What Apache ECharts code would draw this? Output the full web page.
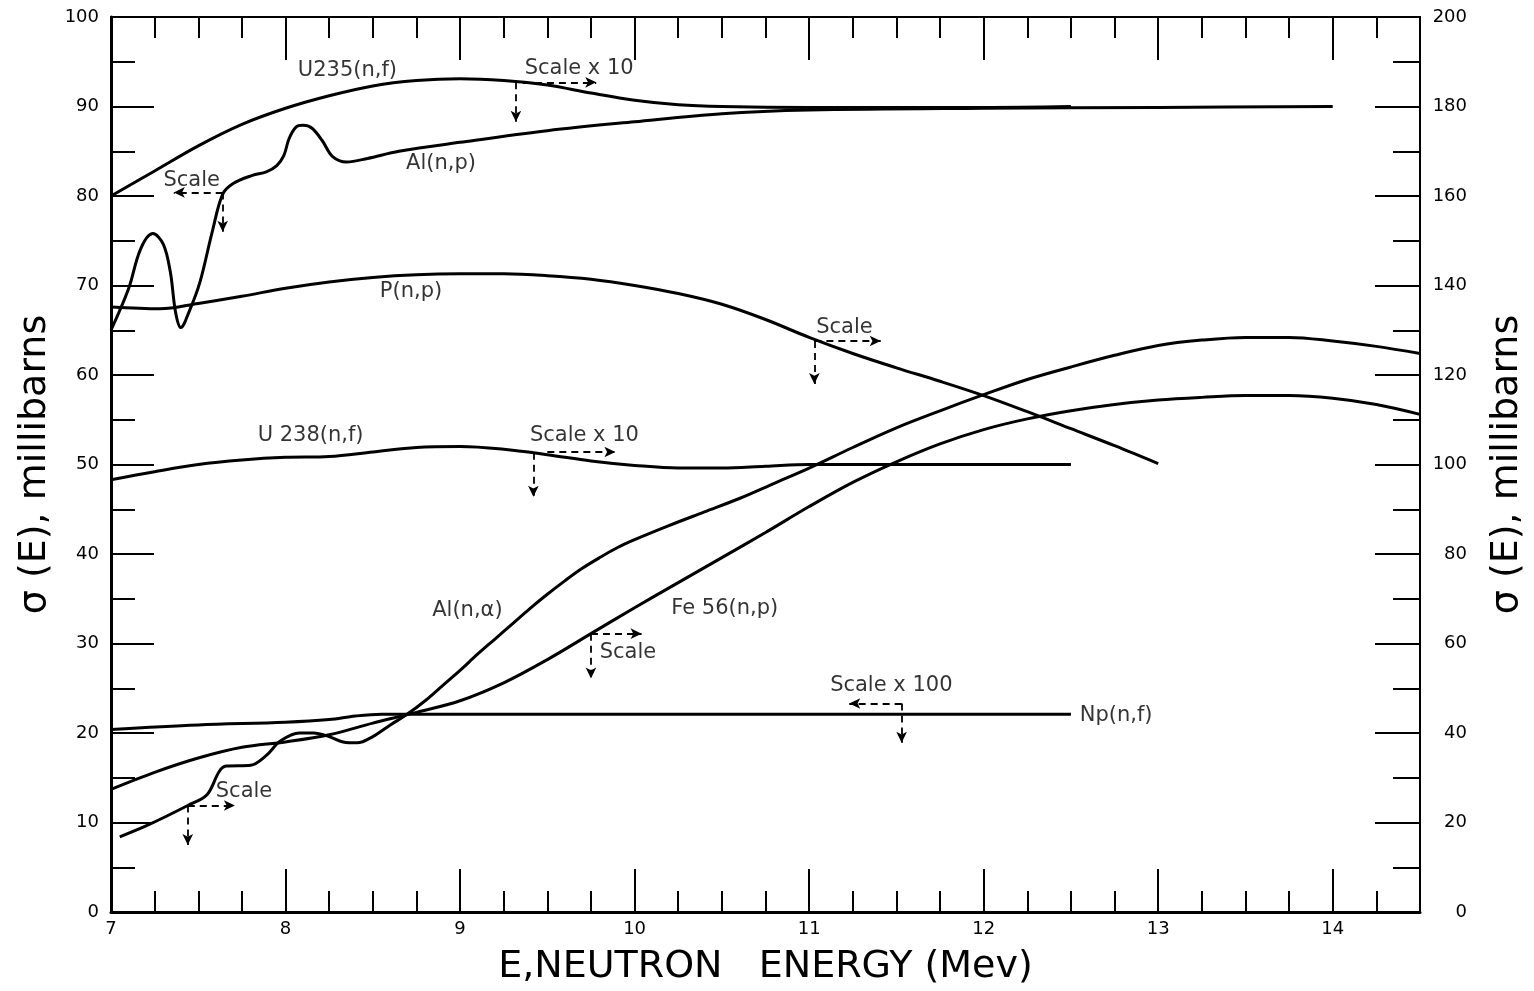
<!DOCTYPE html>
<html>
<head>
<meta charset="utf-8">
<script src="https://cdn.jsdelivr.net/npm/echarts@6/dist/echarts.min.js"></script>
<style>
html,body{margin:0;padding:0;background:#fff;}
#chart{width:1534px;height:991px;}
</style>
</head>
<body>
<div id="chart"></div>
<script>
// ---- data (energy in MeV, cross-section read on the left scale) ----
const u235 = [[7.0,80.0],[7.25,82.8],[7.5,85.6],[7.75,88.0],[8.0,89.8],[8.25,91.2],[8.5,92.3],[8.75,92.9],[9.0,93.1],[9.25,92.9],[9.5,92.4],[9.75,91.5],[10.0,90.7],[10.25,90.2],[10.5,90.0],[11.0,89.9],[12.0,89.9],[12.5,90.0]];
const alNp = [[7.0,65.0],[7.1,69.6],[7.17,74.1],[7.24,75.8],[7.30,74.6],[7.34,71.5],[7.37,67.0],[7.40,65.3],[7.45,67.2],[7.51,70.4],[7.58,76.0],[7.64,80.2],[7.70,81.4],[7.81,82.3],[7.89,82.7],[7.95,83.4],[7.99,84.5],[8.02,86.4],[8.06,87.7],[8.10,87.9],[8.15,87.6],[8.21,86.2],[8.27,84.4],[8.35,83.8],[8.47,84.2],[8.65,85.0],[9.0,86.0],[9.5,87.3],[10.0,88.3],[10.5,89.2],[11.0,89.6],[12.0,89.8],[13.0,89.9],[14.0,90.0]];
const pNp = [[7.0,67.6],[7.28,67.4],[7.5,68.0],[7.75,68.8],[8.0,69.7],[8.25,70.4],[8.5,70.9],[8.75,71.2],[9.0,71.3],[9.25,71.3],[9.5,71.1],[9.75,70.7],[10.0,70.0],[10.25,69.1],[10.5,67.9],[10.75,66.2],[11.0,64.2],[11.25,62.4],[11.5,60.8],[11.75,59.3],[12.0,57.7],[12.25,55.9],[12.5,54.0],[12.75,52.1],[13.0,50.1]];
const u238 = [[7.0,48.3],[7.25,49.2],[7.5,50.0],[7.75,50.5],[8.0,50.8],[8.25,50.9],[8.5,51.4],[8.75,51.9],[9.0,52.0],[9.25,51.7],[9.5,51.1],[9.75,50.4],[10.0,49.9],[10.25,49.6],[10.5,49.6],[10.75,49.8],[11.0,50.0],[11.5,50.0],[12.0,50.0],[12.5,50.0]];
const npNf = [[7.0,20.4],[7.5,20.9],[8.0,21.2],[8.25,21.5],[8.4,21.9],[8.55,22.1],[9.0,22.1],[10.0,22.1],[11.0,22.1],[12.5,22.1]];
const alNa = [[7.05,8.4],[7.21,9.7],[7.44,11.9],[7.55,13.1],[7.62,15.7],[7.66,16.3],[7.8,16.4],[7.89,17.5],[7.97,19.1],[8.08,20.0],[8.16,20.0],[8.25,19.6],[8.33,19.0],[8.41,18.9],[8.5,19.6],[8.6,20.9],[8.69,22.0],[8.8,23.6],[8.9,25.3],[9.0,27.0],[9.1,28.8],[9.2,30.5],[9.3,32.2],[9.4,33.9],[9.5,35.5],[9.6,37.0],[9.7,38.4],[9.8,39.6],[9.9,40.7],[10.0,41.6],[10.2,43.2],[10.4,44.7],[10.6,46.2],[10.8,47.9],[11.0,49.6],[11.25,51.9],[11.5,54.1],[11.75,56.0],[12.0,57.8],[12.25,59.5],[12.5,60.9],[12.75,62.2],[13.0,63.3],[13.25,63.9],[13.5,64.2],[13.75,64.2],[14.0,63.8],[14.25,63.2],[14.5,62.4]];
const fe56 = [[7.0,13.7],[7.25,15.6],[7.5,17.2],[7.75,18.4],[8.0,19.0],[8.25,19.8],[8.5,21.1],[8.75,22.3],[9.0,23.6],[9.25,25.6],[9.5,28.2],[9.75,31.1],[10.0,34.0],[10.25,36.8],[10.5,39.6],[10.75,42.4],[11.0,45.3],[11.25,48.0],[11.5,50.3],[11.75,52.3],[12.0,53.9],[12.25,55.1],[12.5,56.0],[12.75,56.7],[13.0,57.2],[13.25,57.5],[13.5,57.7],[13.75,57.7],[14.0,57.4],[14.25,56.7],[14.5,55.6]];

// curve and scale labels: [energy, value, text]
const curveLabels = [
  [8.07,94.0,'U235(n,f)'],
  [9.37,94.2,'Scale x 10'],
  [7.30,81.7,'Scale'],
  [8.69,83.6,'Al(n,p)'],
  [8.54,69.3,'P(n,p)'],
  [11.04,65.3,'Scale'],
  [7.84,53.2,'U 238(n,f)'],
  [9.40,53.2,'Scale x 10'],
  [8.84,33.7,'Al(n,\u03b1)'],
  [10.21,33.9,'Fe 56(n,p)'],
  [9.80,29.0,'Scale'],
  [11.12,25.3,'Scale x 100'],
  [12.55,22.0,'Np(n,f)'],
  [7.60,13.5,'Scale']
];
// dashed "Scale" arrows: [fromE, fromV, toE, toV]
const scaleArrows = [
  [9.32,92.7,9.32,88.3],[9.36,92.7,9.78,92.7],
  [7.64,80.4,7.36,80.4],[7.64,80.4,7.64,76.0],
  [11.03,63.8,11.41,63.8],[11.03,63.8,11.03,59.0],
  [9.42,51.3,9.42,46.4],[9.50,51.4,9.89,51.4],
  [9.75,31.1,10.04,31.1],[9.75,31.1,9.75,26.1],
  [11.53,23.3,11.23,23.3],[11.53,23.3,11.53,18.9],
  [7.44,11.9,7.71,11.9],[7.44,11.9,7.44,7.5]
];
const xMin = 7, xMax = 14.5;
const leftMax = 100, rightMax = 200;

const FONT = 'DejaVu Sans';
const black = '#000';

function curve(name, data) {
  return {
    name, type: 'line', data, xAxisIndex: 0, yAxisIndex: 0,
    showSymbol: false, smooth: 0.35, silent: true,
    lineStyle: {color: black, width: 3},
    z: 3
  };
}

function xAxisPart(position, minorAxis) {
  const base = {
    type: 'value', min: xMin, max: xMax, position,
    interval: minorAxis ? 0.25 : 1,
    splitLine: {show: false},
    axisLine: {show: minorAxis, onZero: false, lineStyle: {color: black, width: position === 'bottom' ? 3 : 2}},
    axisTick: {show: true, inside: true, length: minorAxis ? 21 : 43, lineStyle: {color: black, width: 2}},
    axisLabel: {show: false}
  };
  if (minorAxis && position === 'bottom') {
    base.axisLabel = {
      show: true, color: black, fontSize: 18, fontFamily: FONT, margin: 8,
      formatter: v => (Math.abs(v - Math.round(v)) < 1e-6 && v < 14.4) ? String(Math.round(v)) : ''
    };
    base.name = 'E,NEUTRON   ENERGY (Mev)';
    base.nameLocation = 'middle';
    base.nameGap = 36;
    base.nameTextStyle = {color: black, fontSize: 38, fontFamily: FONT};
  }
  return base;
}

const option = {
  animation: false,
  backgroundColor: '#fff',
  grid: {left: 111, right: 113, top: 17, bottom: 77, containLabel: false},
  xAxis: [
    xAxisPart('bottom', true),
    xAxisPart('bottom', false),
    xAxisPart('top', true),
    xAxisPart('top', false)
  ],
  yAxis: [
    {
      type: 'value', min: 0, max: leftMax, interval: 10, position: 'left',
      splitLine: {show: false},
      axisLine: {show: true, onZero: false, lineStyle: {color: black, width: 3}},
      axisTick: {show: true, inside: true, length: 43, lineStyle: {color: black, width: 2}},
      minorTick: {show: true, splitNumber: 2, length: 24, lineStyle: {color: black, width: 2}},
      axisLabel: {color: black, fontSize: 18, fontFamily: FONT, margin: 12},
      name: '\u03c3 (E), millibarns', nameLocation: 'middle', nameGap: 42, nameRotate: 90,
      nameTextStyle: {color: black, fontSize: 38, fontFamily: FONT}
    },
    {
      type: 'value', min: 0, max: rightMax, interval: 20, position: 'right',
      splitLine: {show: false},
      axisLine: {show: true, onZero: false, lineStyle: {color: black, width: 2}},
      axisTick: {show: true, inside: true, length: 45, lineStyle: {color: black, width: 2}},
      minorTick: {show: true, splitNumber: 2, length: 27, lineStyle: {color: black, width: 2}},
      axisLabel: {color: black, fontSize: 18, fontFamily: FONT, margin: 47, align: 'right'},
      name: '\u03c3 (E), millibarns', nameLocation: 'middle', nameGap: 68, nameRotate: 90,
      nameTextStyle: {color: black, fontSize: 38, fontFamily: FONT}
    }
  ],
  series: [
    curve('U235(n,f)', u235),
    curve('Al(n,p)', alNp),
    curve('P(n,p)', pNp),
    curve('U238(n,f)', u238),
    curve('Np(n,f)', npNf),
    curve('Al(n,alpha)', alNa),
    curve('Fe56(n,p)', fe56),
    {
      name: 'labels', type: 'scatter', xAxisIndex: 0, yAxisIndex: 0, silent: true,
      symbolSize: 0.1, itemStyle: {color: 'rgba(0,0,0,0)'},
      data: curveLabels.map(l => ({value: [l[0], l[1]], name: l[2]})),
      label: {show: true, position: 'right', distance: 0, formatter: p => p.name,
        color: black, fontSize: 21, fontFamily: FONT},
      markLine: {
        silent: true, animation: false, symbol: ['none', 'arrow'], symbolSize: [8, 11],
        label: {show: false},
        lineStyle: {color: black, width: 1.8, type: [7, 5]},
        emphasis: {disabled: true},
        data: scaleArrows.map(a => [{coord: [a[0], a[1]]}, {coord: [a[2], a[3]]}])
      },
      z: 4
    }
  ]
};

const chart = echarts.init(document.getElementById('chart'), null, {renderer: 'canvas'});
chart.setOption(option);
</script>
</body>
</html>
